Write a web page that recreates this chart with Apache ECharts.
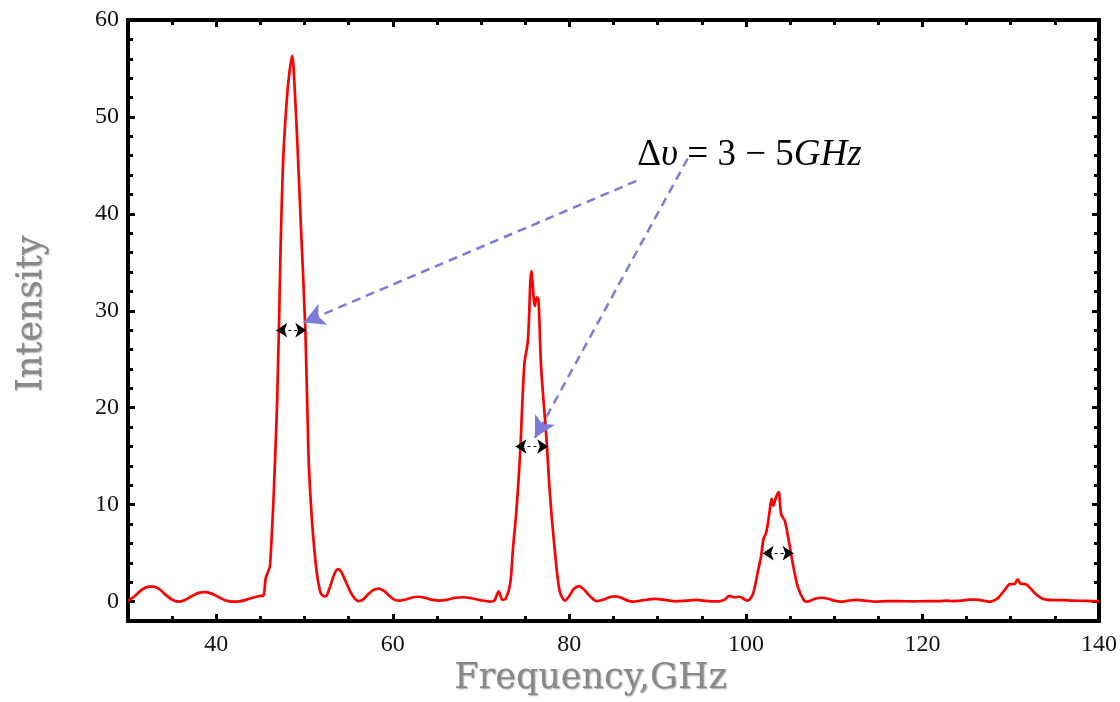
<!DOCTYPE html>
<html>
<head>
<meta charset="utf-8">
<title>Spectrum intensity</title>
<script src="https://cdn.jsdelivr.net/npm/echarts@6/dist/echarts.min.js"></script>
<style>
  html, body { margin: 0; padding: 0; background: #fff; }
  #chart { width: 1120px; height: 702px; }
</style>
</head>
<body>
<div id="chart"></div>
<script>
// Measured spectrum: frequency (GHz) and intensity samples
const freqGHz = [
  30.0, 30.8, 31.6, 32.4, 32.9, 33.6, 34.4, 35.0, 35.7, 36.4, 37.2, 38.0, 38.7, 39.4,
  40.2, 41.0, 41.8, 42.6, 43.4, 44.2, 44.9, 45.35, 45.6, 46.1, 46.9, 47.3, 47.6, 48.0,
  48.3, 48.6, 48.85, 49.2, 49.6, 50.1, 50.45, 50.7, 51.0, 51.4, 51.8, 52.1, 52.4,
  52.8, 53.2, 53.5, 53.8, 54.2, 54.7, 55.2, 55.7, 56.1, 56.6, 57.2, 57.8, 58.4, 59.0,
  59.6, 60.2, 60.8, 61.6, 62.3, 62.9, 63.6, 64.4, 65.3, 66.2, 67.1, 68.0, 68.9, 69.9,
  71.0, 71.5, 72.0, 72.4, 72.8, 73.3, 73.6, 74.0, 74.4, 74.9, 75.3, 75.7, 76.1, 76.3,
  76.5, 76.8, 77.4, 77.8, 78.35, 78.9, 79.5, 80.0, 80.5, 81.1, 81.7, 82.4, 83.1, 84.0,
  84.7, 85.3, 86.0, 86.6, 87.2, 88.4, 89.7, 91.0, 92.1, 93.3, 94.4, 95.7, 97.0, 97.6,
  98.1, 98.7, 99.3, 99.8, 100.2, 100.8, 101.3, 101.7, 102.0, 102.3, 102.7, 102.9, 103.1, 103.4,
  103.7, 104.0, 104.4, 104.85, 105.4, 105.9, 106.6, 107.0, 107.7, 108.5, 109.3, 110.0, 110.8, 111.6,
  112.5, 113.5, 114.7, 116.0, 117.5, 119.0, 120.5, 122.0, 122.7, 123.5, 124.5, 125.3, 126.1, 127.0,
  127.75, 128.3, 128.7, 129.4, 129.9, 130.4, 130.8, 131.1, 131.7, 132.3, 132.8, 133.4, 134.0, 135.0,
  136.0, 137.0, 138.2, 139.4, 140.0
];
const intensity = [
  0.05, 0.6, 1.25, 1.55, 1.55, 1.25, 0.6, 0.2, 0.0, 0.15, 0.55, 0.9, 0.98, 0.85,
  0.5, 0.15, 0.0, 0.02, 0.2, 0.42, 0.58, 0.65, 2.4, 3.8, 20.8, 37.0, 46.0, 51.9,
  54.7, 56.3, 53.5, 47.0, 38.5, 27.8, 15.0, 10.4, 6.5, 2.9, 0.96, 0.6, 0.55,
  1.3, 2.4, 3.1, 3.35, 3.0, 2.0, 1.0, 0.3, 0.05, 0.2, 0.75, 1.2, 1.35, 1.1,
  0.6, 0.2, 0.1, 0.25, 0.45, 0.5, 0.4, 0.2, 0.1, 0.2, 0.4, 0.45, 0.35, 0.15,
  0.0, 0.1, 1.05, 0.2, 0.3, 1.85, 5.3, 9.4, 14.9, 24.5, 26.9, 34.1, 30.5, 31.4,
  31.2, 24.2, 16.9, 11.1, 5.3, 1.1, 0.1, 0.6, 1.3, 1.6, 1.2, 0.5, 0.05, 0.25,
  0.5, 0.55, 0.35, 0.1, 0.0, 0.15, 0.28, 0.15, 0.03, 0.1, 0.17, 0.05, 0.03, 0.2,
  0.6, 0.45, 0.5, 0.25, 0.1, 0.8, 2.85, 4.6, 6.5, 7.1, 9.4, 10.6, 9.9, 10.75,
  11.3, 9.0, 8.35, 6.3, 3.5, 1.47, 0.1, 0.0, 0.25, 0.4, 0.3, 0.1, 0.0, 0.1,
  0.17, 0.1, 0.0, 0.05, 0.05, 0.03, 0.05, 0.05, 0.1, 0.05, 0.1, 0.2, 0.2, 0.08,
  0.0, 0.2, 0.5, 1.3, 1.8, 1.8, 2.3, 1.85, 1.8, 1.3, 0.8, 0.4, 0.2, 0.15,
  0.15, 0.1, 0.08, 0.05, 0.05
];

// Axis tick labels
const xTickLabels = [40, 60, 80, 100, 120, 140];
const yTickLabels = [0, 10, 20, 30, 40, 50, 60];

// Linewidth markers (double arrows) for each peak
const widthLevel = [28, 16, 5];
const widthFrom = [46.8, 73.9, 101.9];
const widthTo = [50.2, 77.6, 105.4];

// Dashed pointers from the annotation to the linewidth markers
const pointerStart = [[87.6, 43.4], [93.4, 45.7]];
const pointerEnd = [[49.9, 28.8], [76.1, 16.9]];
const annotationAt = [100.4, 46.0];

const spectrum = freqGHz.map((f, i) => [f, intensity[i]]);

const serifTicks = { fontFamily: 'Liberation Serif', fontSize: 24, color: '#111' };
const titleStyle = {
  fontFamily: 'DejaVu Serif',
  fontSize: 35,
  color: '#888',
  textShadowColor: 'rgba(0,0,0,0.35)',
  textShadowBlur: 1.5,
  textShadowOffsetX: 1,
  textShadowOffsetY: 1
};

// Frame ticks point inward; the 4px frame covers their first 2px
function majorTick(values) {
  return { show: true, inside: true, length: 7, customValues: values, lineStyle: { color: '#000', width: 3 } };
}
function minorTick() {
  return { show: true, inside: true, length: 5, lineStyle: { color: '#000', width: 3 } };
}
const noLine = { show: false, onZero: false };

const pointerColor = '#7b7bdc';
const markLines = [];
pointerStart.forEach((s, i) => {
  markLines.push([
    { coord: s, symbol: 'none', lineStyle: { color: pointerColor, width: 2.5, type: [9, 6] } },
    { coord: pointerEnd[i], symbol: 'arrow', symbolSize: [17, 21], lineStyle: { color: pointerColor, width: 2.5, type: [9, 6] } }
  ]);
});
widthLevel.forEach((lv, i) => {
  markLines.push([
    { coord: [widthFrom[i], lv], symbol: 'arrow', symbolSize: [11, 11], lineStyle: { color: '#000', width: 1, type: [3, 3] } },
    { coord: [widthTo[i], lv], symbol: 'arrow', symbolSize: [11, 11], lineStyle: { color: '#000', width: 1, type: [3, 3] } }
  ]);
});

const chart = echarts.init(document.getElementById('chart'), null, { renderer: 'canvas' });

chart.setOption({
  animation: false,
  backgroundColor: '#fff',
  grid: {
    left: 128, right: 20, top: 20, bottom: 81,
    show: true, borderColor: '#000', borderWidth: 4, backgroundColor: 'transparent'
  },
  xAxis: [
    {
      type: 'value', position: 'bottom', min: 30, max: 140,
      axisLine: noLine, splitLine: { show: false },
      axisTick: majorTick(xTickLabels),
      axisLabel: Object.assign({ customValues: xTickLabels, margin: 12 }, serifTicks),
      name: 'Frequency,GHz', nameLocation: 'middle', nameGap: 40,
      nameTextStyle: Object.assign({ padding: [0, 46, 0, 0] }, titleStyle)
    },
    {
      type: 'value', position: 'bottom', min: 30, max: 140, interval: 5,
      axisLine: noLine, splitLine: { show: false },
      axisTick: minorTick(), axisLabel: { show: false }
    },
    {
      type: 'value', position: 'top', min: 30, max: 140,
      axisLine: noLine, splitLine: { show: false },
      axisTick: majorTick(xTickLabels), axisLabel: { show: false }
    },
    {
      type: 'value', position: 'top', min: 30, max: 140, interval: 5,
      axisLine: noLine, splitLine: { show: false },
      axisTick: minorTick(), axisLabel: { show: false }
    }
  ],
  yAxis: [
    {
      type: 'value', position: 'left', min: -2, max: 60,
      axisLine: noLine, splitLine: { show: false },
      axisTick: majorTick(yTickLabels),
      axisLabel: Object.assign({ customValues: yTickLabels, margin: 9 }, serifTicks),
      name: 'Intensity', nameLocation: 'middle', nameRotate: 90, nameGap: 79,
      nameTextStyle: Object.assign({ padding: [0, 0, 0, 14] }, titleStyle)
    },
    {
      type: 'value', position: 'left', min: -2, max: 60, interval: 2,
      axisLine: noLine, splitLine: { show: false },
      axisTick: minorTick(), axisLabel: { show: false }
    },
    {
      type: 'value', position: 'right', min: -2, max: 60,
      axisLine: noLine, splitLine: { show: false },
      axisTick: majorTick(yTickLabels), axisLabel: { show: false }
    },
    {
      type: 'value', position: 'right', min: -2, max: 60, interval: 2,
      axisLine: noLine, splitLine: { show: false },
      axisTick: minorTick(), axisLabel: { show: false }
    }
  ],
  series: [
    {
      type: 'line',
      xAxisIndex: 0,
      yAxisIndex: 0,
      data: spectrum,
      showSymbol: false,
      smooth: 0.3,
      lineStyle: { color: '#ff0000', width: 2.7 },
      markLine: {
        silent: true,
        animation: false,
        label: { show: false },
        emphasis: { disabled: true },
        data: markLines
      },
      markPoint: {
        silent: true,
        animation: false,
        data: [
          {
            coord: annotationAt,
            symbol: 'circle',
            symbolSize: 1,
            itemStyle: { color: 'rgba(0,0,0,0)' },
            label: {
              show: true,
              position: 'inside',
              formatter: '{r|Δ}{i|υ}{r| = 3 − 5}{i|GHz}',
              rich: {
                r: { fontFamily: 'Liberation Serif', fontSize: 37, color: '#000' },
                i: { fontFamily: 'Liberation Serif', fontSize: 37, fontStyle: 'italic', color: '#000' }
              }
            }
          }
        ]
      }
    }
  ]
});
</script>
</body>
</html>
